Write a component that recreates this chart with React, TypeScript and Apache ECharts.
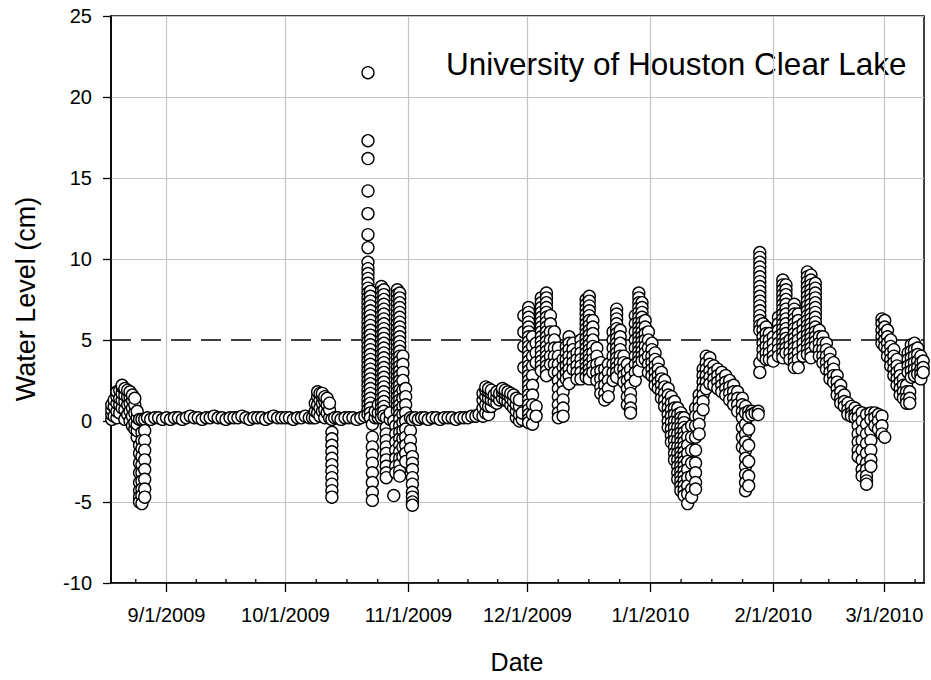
import React, { useEffect, useRef } from "react";
import * as echarts from "echarts";

// Each row: [day of month (fractional), ...water levels in cm observed at that time]
type Row = number[];

const AUG_2009: Row[] = [
  [18.2, 0.1, 0.4, 0.7, 1.0],
  [18.8, 0.3, 0.9, 1.3],
  [19.5, 0.2, 0.6, 1.1, 1.5, 1.8],
  [20.2, 0.5, 1.0, 1.4, 1.9],
  [20.8, 0.8, 1.3, 1.7, 2.1, 2.2],
  [21.5, 0.1, 0.7, 1.2, 1.6, 2.0],
  [22.2, 0.4, 1.0, 1.5, 1.9],
  [22.8, 0.0, 0.6, 1.1, 1.5, 1.8],
  [23.4, -0.3, 0.3, 0.8, 1.3, 1.6],
  [24.0, -0.5, -0.1, 0.5, 1.0, 1.4],
  [24.6, -1.0, -0.6, -0.2, 0.2, 0.6],
  [25.2, 0.1, -1.5, -2.0, -2.6, -3.2, -3.8, -4.3, -4.7, -5.0],
  [25.8, 0.1, -0.7, -1.2, -1.7, -2.2, -2.7, -3.2, -3.7, -4.2, -4.6, -5.1],
  [26.5, 0.1, -0.6, -1.2, -1.8, -2.4, -3.0, -3.6, -4.2, -4.7],
  [27.2, 0.2],
  [28.0, 0.1],
  [29.0, 0.2],
  [30.0, 0.2],
  [31.0, 0.1],
];

const SEP_2009: Row[] = [
  [1, 0.2], [2, 0.1], [3, 0.2], [4, 0.2], [5, 0.1], [6, 0.2], [7, 0.3], [8, 0.2],
  [9, 0.2], [10, 0.1], [11, 0.2], [12, 0.2], [13, 0.3], [14, 0.2], [15, 0.2],
  [16, 0.1], [17, 0.2], [18, 0.2], [19, 0.2], [20, 0.3], [21, 0.2], [22, 0.1],
  [23, 0.2], [24, 0.2], [25, 0.2], [26, 0.1], [27, 0.2], [28, 0.3], [29, 0.2], [30, 0.2],
];

const OCT_2009: Row[] = [
  [1, 0.2], [2, 0.2], [3, 0.1], [4, 0.2], [5, 0.2], [6, 0.3], [7, 0.2], [7.8, 0.2],
  [8.5, 0.2, 0.6, 1.1],
  [9.1, 0.5, 1.0, 1.5, 1.8],
  [9.7, 0.3, 0.8, 1.3, 1.7],
  [10.3, 0.6, 1.1, 1.5, 1.7],
  [10.9, 0.2, 0.7, 1.2, 1.5],
  [11.5, 0.5, 1.0, 1.4],
  [12.1, 0.2, 0.7, 1.1],
  [12.7, 0.1, -0.7, -1.1, -1.5, -1.9, -2.3, -2.7, -3.1, -3.5, -3.9, -4.3, -4.7],
  [13.4, 0.2], [14.2, 0.2], [15, 0.1], [16, 0.2], [17, 0.2], [18, 0.2], [19, 0.1], [20, 0.2], [21, 0.3],
  [21.8, 21.5, 17.3, 16.2, 14.2, 12.8, 11.5, 10.7, 9.8, 9.4, 9.1, 8.8, 8.5, 8.2, 7.9, 7.6, 7.3, 7.0, 6.7,
    6.4, 6.1, 5.8, 5.5, 5.2, 4.9, 4.6, 4.3, 4.0, 3.7, 3.4, 3.1, 2.8, 2.5, 2.2, 1.9, 1.6, 1.3, 1.0, 0.7, 0.4],
  [22.4, 8.0, 7.7, 7.4, 7.1, 6.8, 6.5, 6.2, 5.9, 5.6, 5.3, 5.0, 4.7, 4.4, 4.1, 3.8, 3.5, 3.2, 2.9, 2.6,
    2.3, 2.0, 1.7, 1.4, 1.1, 0.8, 0.5, 0.2],
  [22.9, -0.2, -1.0, -1.6, -2.1, -2.6, -3.2, -3.8, -4.4, -4.9],
  [23.6, 0.2, 0.6],
  [24.4, 0.2, 0.5, 1.0],
  [25.2, 8.3, 8.0, 7.7, 7.4, 7.1, 6.8, 6.5, 6.2, 5.9, 5.6, 5.3, 5.0, 4.7, 4.4, 4.1, 3.8, 3.5, 3.2, 2.9,
    2.6, 2.3, 2.0, 1.7, 1.4, 1.1, 0.8, 0.5, 0.2],
  [25.8, 8.1, 7.8, 7.5, 7.2, 6.9, 6.6, 6.3, 6.0, 5.7, 5.4, 5.1, 4.8, 4.5, 4.2, 3.9, 3.6, 3.3, 3.0, 2.7,
    2.4, 2.1, 1.8, 1.5, 1.2, 0.9, 0.6, 0.3],
  [26.4, 0.2, -0.4, -0.8, -1.2, -1.6, -2.0, -2.4, -2.8, -3.2, -3.5],
  [27.4, 0.1, 0.5],
  [28.3, 0.0, -4.6],
  [28.8, -0.3, -0.8, -1.3, -1.8, -2.3, -2.8, -3.2],
  [29.2, 8.1, 7.8, 7.5, 7.2, 6.9, 6.6, 6.3, 6.0, 5.7, 5.4, 5.1, 4.8, 4.5, 4.2, 3.9, 3.6, 3.3, 3.0, 2.7,
    2.4, 2.1, 1.8, 1.5, 1.2, 0.9, 0.6],
  [29.8, 7.9, 7.6, 7.3, 7.0, 6.7, 6.4, 6.1, 5.8, 5.5, 5.2, 4.9, 4.6, 4.3, 4.0, 3.7, 3.4, 3.1, 2.8, 2.5,
    2.2, 1.9, 1.6, 1.3, 1.0, 0.7, 0.4, 0.1, -0.3, -0.7, -1.1, -1.5, -1.9, -2.3, -2.7, -3.1, -3.4],
  [30.6, 4.0, 3.5, 3.0, 2.5, 1.9, 1.4, 0.9, 0.4, -0.1, -0.6, -1.1, -1.6, -2.2],
  [31.3, 2.0, 1.5, 1.0, 0.5, 0.0, -0.5, -1.0, -1.5, -2.0, -2.5],
];

const NOV_2009: Row[] = [
  [1.5, 0.2, -0.6, -1.2, -1.7],
  [2.0, 0.1, -2.2, -2.6, -3.0, -3.5, -3.9, -4.4, -4.7, -5.0, -5.2],
  [2.7, 0.2], [3.5, 0.1], [4.3, 0.2], [5.1, 0.2], [6, 0.1], [7, 0.2], [8, 0.2], [9, 0.1],
  [10, 0.2], [11, 0.2], [12, 0.2], [13, 0.1], [14, 0.2], [15, 0.2], [16, 0.2], [17, 0.3],
  [18, 0.3], [18.8, 0.4],
  [19.8, 0.3, 0.8, 1.3, 1.7],
  [20.5, 0.5, 1.0, 1.5, 1.9, 2.1],
  [21.2, 0.4, 0.9, 1.4, 1.8, 2.0],
  [21.9, 0.9, 1.3, 1.7, 1.9],
  [22.6, 1.2, 1.6],
  [23.3, 1.1, 1.5, 1.8],
  [24.0, 1.3, 1.7],
  [24.7, 1.4, 1.8, 2.0],
  [25.4, 1.3, 1.7, 1.9],
  [26.1, 1.2, 1.6, 1.8],
  [26.8, 1.0, 1.4, 1.7],
  [27.5, 0.8, 1.2, 1.6],
  [28.2, 0.2, 0.6, 1.0, 1.4],
  [29.0, 0.0, 0.4, 0.9, 1.3],
  [29.7, 0.1, 0.5],
  [30.1, 6.5, 5.5, 4.6, 3.3],
];

const DEC_2009: Row[] = [
  [1.3, 7.0, 6.7, 6.4, 6.1, 5.8, 5.5, 5.2, 4.9, 4.6, 4.3, 4.0, 3.7, 3.4, 3.1, 2.8, 2.5, 2.2, 1.9, 1.6,
    1.3, 1.0, 0.7, 0.4, 0.1, -0.1],
  [2.3, 5.2, 4.6, 4.0, 3.4, 2.8, 2.2, 1.6, 1.0, 0.4, -0.2],
  [3.2, 4.8, 4.2, 3.6, 0.9, 0.3],
  [4.5, 7.6, 7.3, 7.0, 6.7, 6.4, 6.1, 5.8, 5.5, 5.2, 4.9, 4.6, 4.3, 4.0, 3.7, 3.4, 3.1],
  [5.8, 7.9, 7.6, 7.3, 7.0, 6.7, 6.4, 6.1, 5.8, 5.5, 5.2, 4.9, 4.6, 4.3, 4.0, 3.7, 3.4, 3.1, 2.8],
  [6.8, 6.5, 6.0, 5.5, 5.0, 4.5, 4.0, 3.5],
  [7.8, 5.5, 5.0, 4.5, 4.0, 3.5, 3.0],
  [8.8, 4.5, 4.0, 3.5, 3.0, 2.5, 2.0, 1.5, 1.0, 0.5, 0.2],
  [10.0, 3.8, 3.3, 2.8, 2.3, 1.8, 1.3, 0.8, 0.3],
  [10.8, 4.6, 4.2, 3.8, 3.4, 3.0, 2.6],
  [11.5, 5.2, 4.8, 4.4, 4.0, 3.6, 3.2, 2.8, 2.3],
  [12.5, 4.8, 4.4, 4.0, 3.6, 3.2],
  [13.5, 4.2, 3.8, 3.4, 3.0, 2.6],
  [14.5, 5.0, 4.6, 4.2, 3.8, 3.4, 3.0, 2.6],
  [15.8, 7.5, 7.2, 6.9, 6.6, 6.3, 6.0, 5.7, 5.4, 5.1, 4.8, 4.5, 4.2, 3.9, 3.6, 3.3, 3.0, 2.7],
  [16.6, 7.7, 7.4, 7.1, 6.8, 6.5, 6.2, 5.9, 5.6, 5.3, 5.0, 4.7, 4.4, 4.1, 3.8, 3.5, 3.2, 2.9, 2.6],
  [17.5, 6.2, 5.8, 5.4, 5.0, 4.6, 4.2, 3.8, 3.4, 3.0],
  [18.5, 4.5, 4.0, 3.5, 3.0, 2.5],
  [19.5, 3.6, 3.1, 2.6, 2.1, 1.7],
  [20.5, 3.2, 2.7, 2.2, 1.7, 1.3],
  [21.4, 3.5, 3.0, 2.5, 2.0, 1.5],
  [22.6, 5.5, 5.0, 4.5, 4.0, 3.5, 3.0, 2.5],
  [23.5, 6.9, 6.6, 6.3, 6.0, 5.7, 5.4, 5.1, 4.8, 4.5, 4.2, 3.9, 3.6, 3.3, 3.0, 2.7],
  [24.4, 5.6, 5.2, 4.8, 4.4, 4.0, 3.6, 3.2],
  [25.3, 4.0, 3.6, 3.2, 2.8, 2.4],
  [26.2, 3.5, 3.0, 2.5, 2.0, 1.5, 1.0],
  [27.0, 3.2, 2.7, 2.2, 1.7, 1.3, 0.8, 0.5],
  [28.2, 6.5, 6.0, 5.5, 5.0, 4.5, 4.0, 3.5, 3.0, 2.5],
  [29.1, 7.9, 7.6, 7.3, 7.0, 6.7, 6.4, 6.1, 5.8, 5.5, 5.2, 4.9, 4.6, 4.3, 4.0, 3.7, 3.4, 3.1],
  [29.9, 7.3, 7.0, 6.7, 6.4, 6.1, 5.8, 5.5, 5.2, 4.9, 4.6, 4.3, 4.0, 3.7],
  [30.7, 6.2, 5.8, 5.4, 5.0, 4.6, 4.2, 3.8],
  [31.5, 5.5, 5.0, 4.5, 4.0, 3.5, 3.0],
];

const JAN_2010: Row[] = [
  [1.4, 4.8, 4.4, 4.0, 3.6, 3.2, 2.8],
  [2.2, 4.2, 3.8, 3.4, 3.0, 2.6, 2.2],
  [3.0, 3.6, 3.2, 2.8, 2.4, 2.0],
  [3.8, 3.0, 2.6, 2.2, 1.8, 1.4],
  [4.6, 2.5, 2.1, 1.7, 1.3, 0.9],
  [5.5, 2.0, 1.6, 1.2, 0.8, 0.4, 0.0, -0.4],
  [6.3, 1.5, 1.1, 0.7, 0.3, -0.1, -0.5, -0.9, -1.3],
  [7.1, 1.2, 0.8, 0.4, 0.0, -0.4, -0.8, -1.2, -1.6, -2.0, -2.4],
  [7.9, 0.8, 0.4, 0.0, -0.4, -0.8, -1.2, -1.6, -2.0, -2.4, -2.8, -3.2, -3.6],
  [8.7, 0.5, 0.2, -0.1, -0.4, -0.7, -1.0, -1.3, -1.6, -1.9, -2.2, -2.5, -2.8, -3.1, -3.4, -3.7, -4.0, -4.3],
  [9.5, 0.2, -0.1, -0.4, -0.7, -1.0, -1.3, -1.6, -1.9, -2.2, -2.5, -2.8, -3.1, -3.4, -3.7, -4.0, -4.3, -4.6],
  [10.4, -0.5, -1.0, -1.5, -2.0, -2.5, -3.0, -3.5, -4.0, -4.5, -5.1],
  [11.4, -0.3, -1.0, -1.8, -2.6, -3.4, -4.2, -4.7],
  [12.4, 0.8, 0.3, -0.3, -1.0, -1.8, -2.6, -3.2, -3.8, -4.2],
  [13.3, 1.6, 1.2, 0.8, 0.3, -0.2, -0.8],
  [14.3, 3.2, 2.8, 2.4, 2.0, 1.6, 1.2, 0.7],
  [15.1, 4.0, 3.6, 3.2, 2.8, 2.4, 2.0],
  [16.0, 3.9, 3.5, 3.1, 2.7, 2.3],
  [17.0, 3.4, 3.0, 2.6, 2.2],
  [18.0, 3.2, 2.8, 2.4, 2.0],
  [19.0, 3.0, 2.6, 2.2, 1.8],
  [20.0, 2.8, 2.4, 2.0, 1.6],
  [21.0, 2.5, 2.1, 1.7, 1.3],
  [22.0, 2.2, 1.8, 1.4, 1.0],
  [23.0, 1.8, 1.4, 1.0, 0.6],
  [24.2, 1.4, 1.0, 0.6, 0.2, -0.4, -1.0, -1.6],
  [25.0, 0.9, 0.5, -0.2, -0.8, -1.3, -1.8, -2.3, -2.8, -3.3, -3.8, -4.3],
  [25.8, 0.6, 0.3, -0.5, -1.5, -2.5, -3.4, -4.0],
  [26.6, 0.6, 0.4],
  [27.4, 0.5],
  [28.2, 0.6, 0.4],
  [28.6, 10.4, 10.1, 9.8, 9.5, 9.2, 8.9, 8.6, 8.3, 8.0, 7.7, 7.4, 7.1, 6.8, 6.5, 6.2, 5.9, 5.6, 3.6, 3.0],
  [29.4, 6.0, 5.6, 5.2, 4.8, 4.4, 4.0],
  [30.2, 5.8, 5.4, 5.0, 4.6, 4.2, 3.8],
  [31.0, 5.4, 5.0, 4.6, 4.2, 3.8],
];

const FEB_2010: Row[] = [
  [1.0, 5.2, 4.8, 4.4, 4.0, 3.7],
  [2.3, 6.4, 6.0, 5.6, 5.2, 4.8, 4.4, 4.0],
  [3.4, 8.7, 8.4, 8.1, 7.8, 7.5, 7.2, 6.9, 6.6, 6.3, 6.0, 5.7, 5.4, 5.1, 4.8, 4.5, 4.2, 3.9],
  [4.2, 8.4, 8.1, 7.8, 7.5, 7.2, 6.9, 6.6, 6.3, 6.0, 5.7, 5.4, 5.1, 4.8, 4.5, 4.2],
  [5.2, 5.0, 4.6, 4.2, 3.8],
  [6.3, 7.2, 6.9, 6.6, 6.3, 6.0, 5.7, 5.4, 5.1, 4.8, 4.5, 4.2, 3.9, 3.6, 3.3],
  [7.3, 6.6, 6.2, 5.8, 5.4, 5.0, 4.6, 4.2, 3.8, 3.3],
  [8.5, 6.0, 5.6, 5.2, 4.8, 4.4, 4.0],
  [9.6, 9.2, 8.9, 8.6, 8.3, 8.0, 7.7, 7.4, 7.1, 6.8, 6.5, 6.2, 5.9, 5.6, 5.3, 5.0, 4.7, 4.4, 4.1],
  [10.5, 9.0, 8.7, 8.4, 8.1, 7.8, 7.5, 7.2, 6.9, 6.6, 6.3, 6.0, 5.7, 5.4, 5.1, 4.8, 4.5, 4.2, 3.9],
  [11.6, 8.5, 8.2, 7.9, 7.6, 7.3, 7.0, 6.7, 6.4, 6.1, 5.8, 5.5, 5.2, 4.9, 4.6],
  [12.6, 5.6, 5.2, 4.8, 4.4, 4.0],
  [13.5, 5.2, 4.8, 4.4, 4.0, 3.6],
  [14.4, 4.8, 4.4, 4.0, 3.6, 3.2],
  [15.3, 4.2, 3.8, 3.4, 3.0, 2.6],
  [16.2, 3.6, 3.2, 2.8, 2.4],
  [17.1, 2.8, 2.4, 2.0, 1.6],
  [18.0, 2.2, 1.8, 1.4, 1.1],
  [18.9, 1.6, 1.2, 0.9],
  [19.8, 1.1, 0.7, 0.4],
  [20.7, 0.9, 0.5, 0.3],
  [21.6, 0.8, 0.4, 0.2],
  [22.4, 0.6, 0.2, -0.3, -0.8, -1.3, -1.8, -2.2],
  [23.4, 0.5, 0.0, -0.6, -1.2, -1.8, -2.4, -3.0, -3.4],
  [24.5, 0.4, -0.2, -0.8, -1.4, -2.0, -2.6, -3.0, -3.4, -3.7, -3.9],
  [25.6, 0.5, 0.1, -0.6, -1.2, -1.8, -2.4, -2.8],
  [26.6, 0.5, 0.2, -0.3],
  [27.5, 0.4, 0.0, -0.5],
  [28.4, 0.3, -0.3, -0.8, 6.3, 6.0, 5.6, 5.2, 4.8],
];

const MAR_2010: Row[] = [
  [1.1, 6.2, 5.8, 5.4, 5.0, 4.6, -1.0],
  [1.8, 5.6, 5.2, 4.8, 4.4, 4.0],
  [2.6, 5.0, 4.6, 4.2, 3.8, 3.4],
  [3.4, 4.4, 4.0, 3.6, 3.2, 2.8],
  [4.2, 3.8, 3.4, 3.0, 2.6, 2.2],
  [5.0, 3.2, 2.8, 2.4, 2.0, 1.6],
  [5.8, 2.6, 2.2, 1.8, 1.4],
  [6.6, 2.2, 1.8, 1.4, 1.1],
  [7.0, 4.2, 3.8, 3.4, 3.0],
  [7.4, 1.8, 1.4, 1.1],
  [7.8, 4.7, 4.3, 3.9, 3.5, 3.1, 2.7],
  [8.6, 4.8, 4.4, 4.0, 3.6, 3.2, 2.8],
  [9.4, 4.5, 4.1, 3.7, 3.3, 2.9],
  [10.2, 4.0, 3.6, 3.2, 2.9, 2.6],
  [10.8, 3.7, 3.3, 3.0],
];

const MONTHS: { year: number; month: number; rows: Row[] }[] = [
  { year: 2009, month: 7, rows: AUG_2009 },
  { year: 2009, month: 8, rows: SEP_2009 },
  { year: 2009, month: 9, rows: OCT_2009 },
  { year: 2009, month: 10, rows: NOV_2009 },
  { year: 2009, month: 11, rows: DEC_2009 },
  { year: 2010, month: 0, rows: JAN_2010 },
  { year: 2010, month: 1, rows: FEB_2010 },
  { year: 2010, month: 2, rows: MAR_2010 },
];

const X_MIN = Date.UTC(2009, 7, 18);
const X_MAX = Date.UTC(2010, 2, 11);
const MONTH_TICKS = [
  Date.UTC(2009, 8, 1),
  Date.UTC(2009, 9, 1),
  Date.UTC(2009, 10, 1),
  Date.UTC(2009, 11, 1),
  Date.UTC(2010, 0, 1),
  Date.UTC(2010, 1, 1),
  Date.UTC(2010, 2, 1),
];
const MONTH_BOUNDS = [Date.UTC(2009, 7, 1), ...MONTH_TICKS, Date.UTC(2010, 3, 1)];
const Y_MIN = -10;
const Y_MAX = 25;
const Y_STEP = 5;
const REFERENCE_LEVEL = 5;

const TITLE = "University of Houston Clear Lake";
const X_NAME = "Date";
const Y_NAME = "Water Level (cm)";

const DAY = 86400000;
const FONT = '"Liberation Sans", Arial, Helvetica, sans-serif';

function buildPoints(): [number, number][] {
  const pts: [number, number][] = [];
  for (const m of MONTHS) {
    const start = Date.UTC(m.year, m.month, 1);
    for (const r of m.rows) {
      const t = start + (r[0] - 1) * DAY;
      for (let i = 1; i < r.length; i++) pts.push([t, r[i]]);
    }
  }
  return pts;
}

function minorTicks(): [number, number][] {
  const out: [number, number][] = [];
  for (let i = 0; i < MONTH_BOUNDS.length - 1; i++) {
    const a = MONTH_BOUNDS[i];
    const b = MONTH_BOUNDS[i + 1];
    for (let k = 1; k < 4; k++) {
      const t = a + ((b - a) * k) / 4;
      if (t > X_MIN && t < X_MAX) out.push([t, Y_MIN]);
    }
  }
  return out;
}

function fmtDate(v: number): string {
  const d = new Date(v);
  return `${d.getUTCMonth() + 1}/${d.getUTCDate()}/${d.getUTCFullYear()}`;
}

export default function App() {
  const ref = useRef<HTMLDivElement>(null);
  useEffect(() => {
    if (!ref.current) return;
    const chart = echarts.init(ref.current, null, { renderer: "svg" });
    const gridColors: string[] = [];
    for (let v = Y_MIN; v <= Y_MAX; v += Y_STEP) {
      gridColors.push(v === REFERENCE_LEVEL ? "rgba(0,0,0,0)" : "#c4c4c4");
    }
    chart.setOption({
      animation: false,
      backgroundColor: "#ffffff",
      grid: {
        left: 111,
        right: 7,
        top: 16,
        bottom: 97,
        show: true,
        borderColor: "#000",
        borderWidth: 1.5,
        backgroundColor: "rgba(0,0,0,0)",
      },
      xAxis: {
        type: "value",
        min: X_MIN,
        max: X_MAX,
        position: "bottom",
        axisLine: { show: true, onZero: false, lineStyle: { color: "#000", width: 1.6 } },
        axisTick: {
          show: true,
          inside: false,
          length: 9,
          customValues: MONTH_TICKS,
          lineStyle: { color: "#000", width: 1.3 },
        },
        axisLabel: {
          show: true,
          customValues: MONTH_TICKS,
          formatter: (v: number) => fmtDate(v),
          margin: 22,
          fontFamily: FONT,
          fontSize: 20,
          color: "#000",
        },
        splitLine: { show: true, lineStyle: { color: "#c4c4c4", width: 1.2 } },
      },
      yAxis: {
        type: "value",
        min: Y_MIN,
        max: Y_MAX,
        interval: Y_STEP,
        axisLine: { show: true, onZero: false, lineStyle: { color: "#000", width: 1.6 } },
        axisTick: { show: true, inside: false, length: 8, lineStyle: { color: "#000", width: 1.3 } },
        axisLabel: { margin: 19, fontFamily: FONT, fontSize: 20, color: "#000" },
        splitLine: { show: true, lineStyle: { color: gridColors, width: 1.2 } },
      },
      series: [
        {
          type: "line",
          data: [
            [X_MIN, REFERENCE_LEVEL],
            [X_MAX, REFERENCE_LEVEL],
          ],
          symbol: "none",
          silent: true,
          z: 1,
          lineStyle: { color: "#000", width: 1.5, type: [20, 10] },
        },
        {
          type: "scatter",
          data: minorTicks(),
          symbol: "rect",
          symbolSize: [1.3, 4],
          symbolOffset: [0, -2],
          silent: true,
          clip: false,
          z: 4,
          itemStyle: { color: "#000", opacity: 1 },
        },
        {
          type: "scatter",
          data: buildPoints(),
          symbol: "circle",
          symbolSize: 12,
          silent: true,
          clip: false,
          large: false,
          z: 3,
          itemStyle: { color: "#fff", borderColor: "#000", borderWidth: 1.35, opacity: 1 },
        },
      ],
      graphic: [
        {
          type: "text",
          x: 446,
          y: 64,
          silent: true,
          style: {
            text: TITLE,
            fontFamily: FONT,
            fontSize: 31.5,
            fill: "#000",
            textAlign: "left",
            textVerticalAlign: "middle",
          },
        },
        {
          type: "text",
          x: 517,
          y: 662,
          silent: true,
          style: {
            text: X_NAME,
            fontFamily: FONT,
            fontSize: 25,
            fill: "#000",
            textAlign: "center",
            textVerticalAlign: "middle",
          },
        },
        {
          type: "text",
          x: 26,
          y: 299,
          rotation: Math.PI / 2,
          silent: true,
          style: {
            text: Y_NAME,
            fontFamily: FONT,
            fontSize: 27,
            fill: "#000",
            textAlign: "center",
            textVerticalAlign: "middle",
          },
        },
      ],
    });
    return () => chart.dispose();
  }, []);
  return (
    <div
      ref={ref}
      style={{ position: "fixed", left: 0, top: 0, width: 931, height: 680, background: "#fff" }}
    />
  );
}
